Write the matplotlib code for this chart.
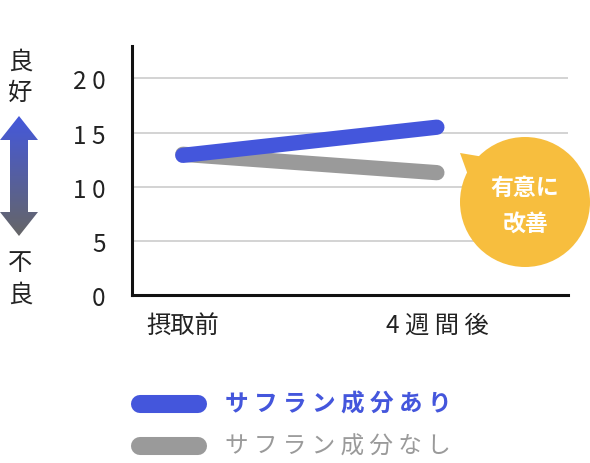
import numpy as np
import matplotlib.pyplot as plt
from matplotlib.patches import Polygon, Circle

plt.rcParams['font.family'] = ['Noto Sans CJK JP', 'DejaVu Sans']

# データ
categories = ['摂取前', '4 週 間 後']
with_saffron = [12.9, 15.5]
without_saffron = [13.0, 11.3]
yticks = [0, 5, 10, 15, 20]
ytick_labels = ['0', '5', '1 0', '1 5', '2 0']
legend_labels = ['サ フ ラ ン 成 分 あ り', 'サ フ ラ ン 成 分 な し']

blue = '#4456dc'
gray = '#9a9a9a'

fig = plt.figure(figsize=(5.9, 4.64), dpi=100)
ax = fig.add_axes([132 / 590, 168 / 464, 436 / 590, 249 / 464])

x = np.arange(len(categories))
ax.plot(x, without_saffron, color=gray, lw=11, solid_capstyle='round', zorder=3)
ax.plot(x, with_saffron, color=blue, lw=11, solid_capstyle='round', zorder=4)

ax.set_xlim(-0.2, 1.516)
ax.set_ylim(0, 23)
ax.set_yticks(yticks)
ax.set_yticklabels(ytick_labels, fontsize=17.5, color='#222222')
ax.set_xticks(x)
ax.set_xticklabels(categories, fontsize=17.5, color='#222222')
ax.tick_params(length=0)
ax.tick_params(axis='y', pad=19)
ax.tick_params(axis='x', pad=12)
for v in yticks[1:]:
    ax.axhline(v, color='#cccccc', lw=1.2, zorder=1)
for s in ['top', 'right']:
    ax.spines[s].set_visible(False)
for s in ['left', 'bottom']:
    ax.spines[s].set_linewidth(2.2)
    ax.spines[s].set_color('#111111')
    ax.spines[s].set_zorder(5)

# 注釈用のオーバーレイ（ピクセル座標）
ov = fig.add_axes([0, 0, 1, 1], zorder=10)
ov.set_facecolor('none')
ov.axis('off')

# 良好／不良
for ch, yy in [('良', 62), ('好', 93), ('不', 263), ('良', 295)]:
    ov.text(20, yy, ch, fontsize=17.5, ha='center', va='center', color='#222222')

# グラデーション矢印
arrow = Polygon([(19, 117), (38, 141), (28, 141), (28, 213), (38, 213), (19, 237),
                 (0, 213), (10, 213), (10, 141), (0, 141)], closed=True,
                facecolor='none', edgecolor='none')
ov.add_patch(arrow)
top_c = np.array([0x44, 0x58, 0xdc]) / 255
bot_c = np.array([0x66, 0x66, 0x66]) / 255
t = np.linspace(0, 1, 200)[:, None, None]
grad = top_c * (1 - t) + bot_c * t
img = ov.imshow(grad, extent=(0, 38, 237, 117), aspect='auto', origin='upper')
img.set_clip_path(arrow)

# 吹き出し
bubble_c = '#f7be3e'
ov.add_patch(Circle((525, 203), 65, facecolor=bubble_c, edgecolor='none'))
ov.add_patch(Polygon([(460, 154), (484, 158), (468, 176)], closed=True,
                     facecolor=bubble_c, edgecolor='none'))
ov.text(525, 188, '有意に', fontsize=16.5, fontweight='bold', color='white',
        ha='center', va='center')
ov.text(525, 224, '改善', fontsize=16.5, fontweight='bold', color='white',
        ha='center', va='center')

# 凡例
ov.plot([140, 198], [405, 405], color=blue, lw=13, solid_capstyle='round')
ov.plot([140, 198], [447, 447], color=gray, lw=13, solid_capstyle='round')
ov.text(225, 405, legend_labels[0], fontsize=17, fontweight='bold', color=blue,
        ha='left', va='center')
ov.text(225, 447, legend_labels[1], fontsize=17, color=gray,
        ha='left', va='center')

ov.set_xlim(0, 590)
ov.set_ylim(464, 0)

fig.savefig('out.png', dpi=100)
